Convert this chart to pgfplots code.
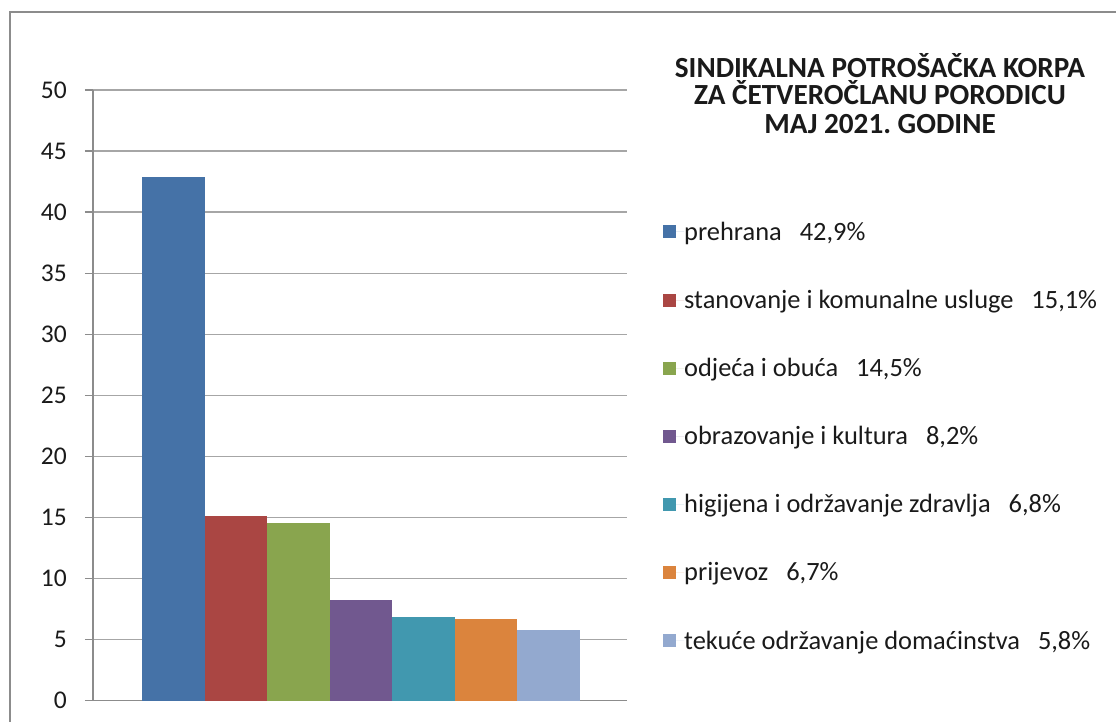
\documentclass[border=0pt]{standalone}
\usepackage{pgfplots}
\pgfplotsset{compat=1.18}
\usepackage{fontspec}
\setmainfont{Carlito}
\frenchspacing
\definecolor{c1}{HTML}{4572A7}
\definecolor{c2}{HTML}{AA4643}
\definecolor{c3}{HTML}{89A54E}
\definecolor{c4}{HTML}{71588F}
\definecolor{c5}{HTML}{4198AF}
\definecolor{c6}{HTML}{DB843D}
\definecolor{c7}{HTML}{93A9CF}
\definecolor{gridc}{HTML}{A6A6A6}
\definecolor{axc}{HTML}{8C8C8C}
\definecolor{txt}{HTML}{1A1A1A}
\begin{document}
\begin{tikzpicture}
\useasboundingbox (0,0) rectangle (1116bp,722bp);
\clip (0,0) rectangle (1116bp,722bp);
\draw[axc, line width=2bp] (10bp,-10bp) -- (10bp,709.5bp) -- (1130bp,709.5bp);
\begin{axis}[
  at={(93bp,21.5bp)}, anchor=south west,
  scale only axis, width=534bp, height=610.5bp,
  xmin=0, xmax=534, ymin=0, ymax=50,
  axis x line*=bottom, axis y line*=left,
  axis line style={-, draw=axc, line width=1.2bp},
  xtick=\empty,
  ytick={0,5,...,50},
  ymajorgrids, grid style={draw=gridc, line width=1.2bp},
  tick align=outside, major tick length=8bp,
  tick style={draw=axc, line width=1.2bp},
  /pgf/number format/assume math mode=true,
  yticklabel style={font=\fontsize{25.5bp}{28bp}\selectfont, text=txt, anchor=east, inner sep=0pt, xshift=-18bp},
  legsq/.style={legend image code/.code={\fill[##1,draw=none] (0bp,-6.5bp) rectangle (13bp,6.5bp); \path (0bp,0bp) -- (21bp,0bp);}},
  legend style={at={(axis description cs:1.0674,0.7815)}, anchor=north west,
    draw=none, fill=none, inner sep=0pt, row sep=51.55bp,
    /tikz/every even column/.style={column sep=0pt},
    nodes={inner sep=0pt, text height=16.6bp, text depth=0pt, text=txt},
    font=\fontsize{26.4bp}{30bp}\selectfont},
  legend cell align=left,
]
\addplot[ybar, bar width=62.57, bar shift=0pt, fill=c1, draw=none, legsq] coordinates {(80.3,42.9)};
\addlegendentry{prehrana\hspace{18bp}42,9\%}
\addplot[ybar, bar width=62.57, bar shift=0pt, fill=c2, draw=none, legsq] coordinates {(142.9,15.1)};
\addlegendentry{stanovanje i komunalne usluge\hspace{18bp}15,1\%}
\addplot[ybar, bar width=62.57, bar shift=0pt, fill=c3, draw=none, legsq] coordinates {(205.4,14.5)};
\addlegendentry{odjeća i obuća\hspace{18bp}14,5\%}
\addplot[ybar, bar width=62.57, bar shift=0pt, fill=c4, draw=none, legsq] coordinates {(268.0,8.2)};
\addlegendentry{obrazovanje i kultura\hspace{18bp}8,2\%}
\addplot[ybar, bar width=62.57, bar shift=0pt, fill=c5, draw=none, legsq] coordinates {(330.6,6.8)};
\addlegendentry{higijena i održavanje zdravlja\hspace{18bp}6,8\%}
\addplot[ybar, bar width=62.57, bar shift=0pt, fill=c6, draw=none, legsq] coordinates {(393.1,6.7)};
\addlegendentry{prijevoz\hspace{18bp}6,7\%}
\addplot[ybar, bar width=62.57, bar shift=0pt, fill=c7, draw=none, legsq] coordinates {(455.7,5.8)};
\addlegendentry{tekuće održavanje domaćinstva\hspace{18bp}5,8\%}
\end{axis}
\begin{scope}[every node/.style={font=\bfseries\fontsize{29.2bp}{32bp}\selectfont, text=txt, inner sep=0pt, anchor=base}]
\node at (880bp,644.7bp) {SINDIKALNA POTROŠAČKA KORPA};
\node at (880bp,617bp) {ZA ČETVEROČLANU PORODICU};
\node at (880bp,588.7bp) {MAJ 2021. GODINE};
\end{scope}
\end{tikzpicture}
\end{document}
